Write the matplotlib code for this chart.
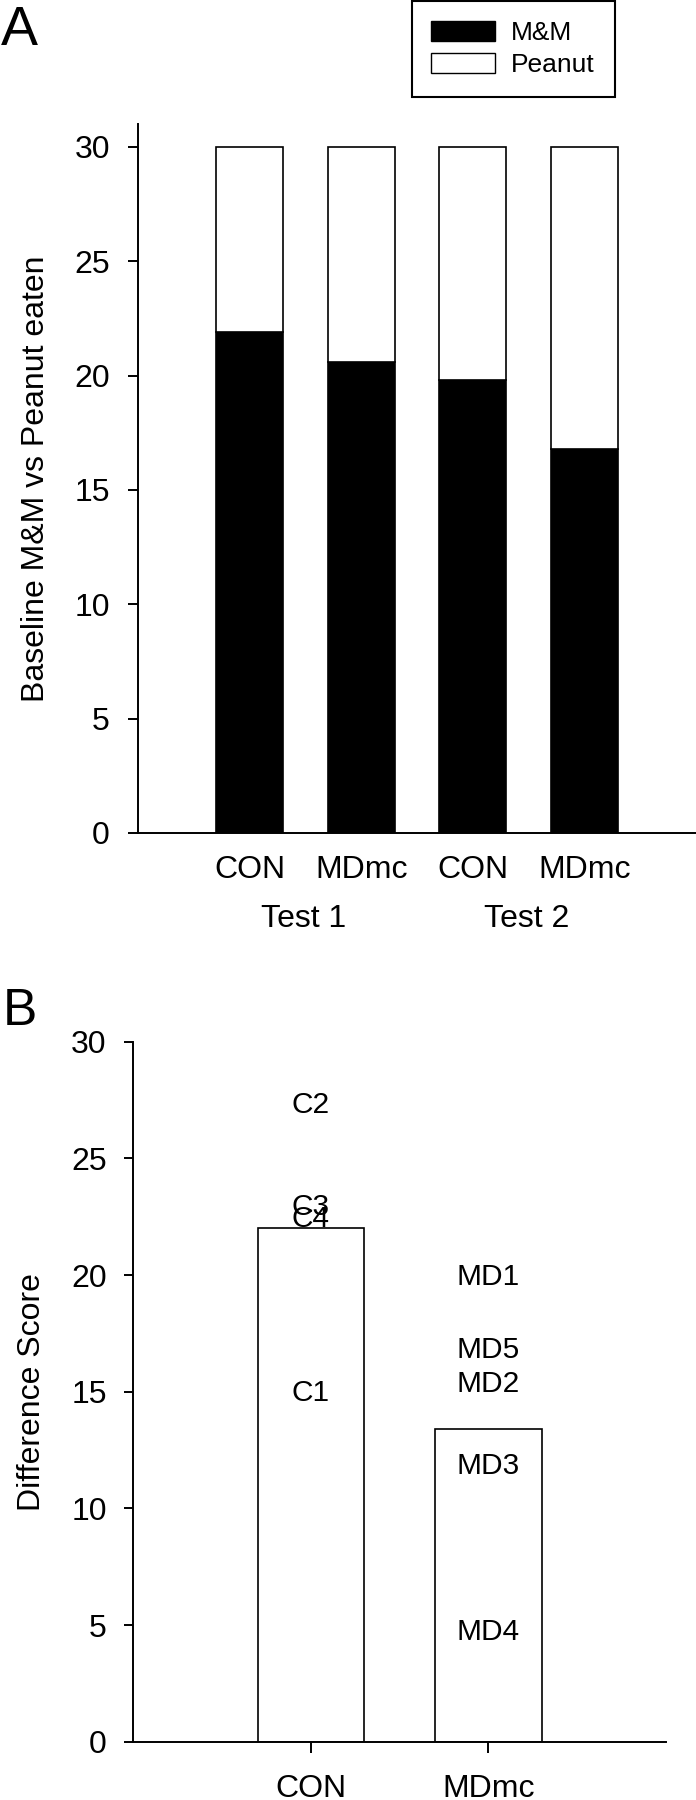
import numpy as np
import matplotlib
matplotlib.use('Agg')
import matplotlib.pyplot as plt
from matplotlib.patches import Patch

plt.rcParams['font.family'] = ['Liberation Sans', 'DejaVu Sans']

# ---- data ----
groups_a = ['CON', 'MDmc', 'CON', 'MDmc']
tests = ['Test 1', 'Test 2']
mm_eaten = [21.9, 20.6, 19.8, 16.8]
peanut_eaten = [8.1, 9.4, 10.2, 13.2]

groups_b = ['CON', 'MDmc']
diff_means = [22.0, 13.4]
con_labels = ['C1', 'C2', 'C3', 'C4']
con_scores = [14.95, 27.3, 22.9, 22.4]
md_labels = ['MD1', 'MD2', 'MD3', 'MD4', 'MD5']
md_scores = [19.9, 15.35, 11.8, 4.7, 16.8]

W, H = 696, 1800
fig = plt.figure(figsize=(W / 100, H / 100), dpi=100)

FS = 23
LW = 1.4

# ---- Panel A ----
axA = fig.add_axes([138 / W, 1 - 833 / H, (696 - 138) / W, (833 - 124) / H])
xa = np.arange(len(groups_a))
axA.bar(xa, mm_eaten, width=0.6, color='black', edgecolor='black', linewidth=1.2)
axA.bar(xa, peanut_eaten, bottom=mm_eaten, width=0.6, color='white',
        edgecolor='black', linewidth=1.2)
axA.set_xlim(-1, 4)
axA.set_ylim(0, 31)
axA.set_yticks(np.arange(0, 31, 5))
axA.set_xticks(xa)
axA.set_xticklabels(groups_a)
axA.tick_params(axis='x', length=0, pad=15.5, labelsize=FS)
axA.tick_params(axis='y', length=7.2, width=LW, pad=13, labelsize=FS)
for s in ['top', 'right']:
    axA.spines[s].set_visible(False)
for s in ['left', 'bottom']:
    axA.spines[s].set_linewidth(LW)

test_pos = [xa[0:2].mean(), xa[2:4].mean()]
for tp, tl in zip(test_pos, tests):
    axA.annotate(tl, xy=(tp, 0), xycoords=('data', 'axes fraction'),
                 xytext=(-1.5, -71 * 0.72), textcoords='offset points',
                 ha='center', va='top', fontsize=FS)

fig.text(44.4 / W, 1 - 478.5 / H, 'Baseline M&M vs Peanut eaten', rotation=90,
         rotation_mode='anchor', ha='center', va='baseline', fontsize=FS)

leg = fig.legend(handles=[Patch(facecolor='black', edgecolor='black', label='M&M'),
                          Patch(facecolor='white', edgecolor='black', label='Peanut')],
                 loc='upper left', bbox_to_anchor=(411.7 / W, 1 - 1 / H),
                 bbox_transform=fig.transFigure, borderaxespad=0, fontsize=19,
                 frameon=True, fancybox=False, edgecolor='black', framealpha=1,
                 handlelength=2.42, handleheight=0.8, handletextpad=0.6,
                 borderpad=0.75, labelspacing=0.3)
leg.get_frame().set_linewidth(1.5)

fig.text(1 / W, 1 - 45 / H, 'A', fontsize=40, ha='left', va='baseline')

# ---- Panel B ----
axB = fig.add_axes([133.3 / W, 1 - 1741.7 / H, (666 - 133.3) / W, 700 / H])
xb = np.arange(len(groups_b))
axB.bar(xb, diff_means, width=0.6, color='white', edgecolor='black', linewidth=1.2)
axB.set_xlim(-1, 2)
axB.set_ylim(0, 30)
axB.set_yticks(np.arange(0, 31, 5))
axB.set_xticks(xb)
axB.set_xticklabels(groups_b)
axB.tick_params(axis='x', length=8, width=LW, pad=15.5, labelsize=FS)
axB.tick_params(axis='y', length=6.5, width=LW, pad=12.6, labelsize=FS)
for s in ['top', 'right']:
    axB.spines[s].set_visible(False)
for s in ['left', 'bottom']:
    axB.spines[s].set_linewidth(LW)

for lbl, sc in zip(con_labels, con_scores):
    axB.text(xb[0], sc, lbl, ha='center', va='center', fontsize=21.5)
for lbl, sc in zip(md_labels, md_scores):
    axB.text(xb[1], sc, lbl, ha='center', va='center', fontsize=21.5)

fig.text(40 / W, 1 - 1392 / H, 'Difference Score', rotation=90,
         rotation_mode='anchor', ha='center', va='baseline', fontsize=FS)

fig.text(3 / W, 1 - 1025 / H, 'B', fontsize=37, ha='left', va='baseline')

fig.savefig('out.png', dpi=100)
